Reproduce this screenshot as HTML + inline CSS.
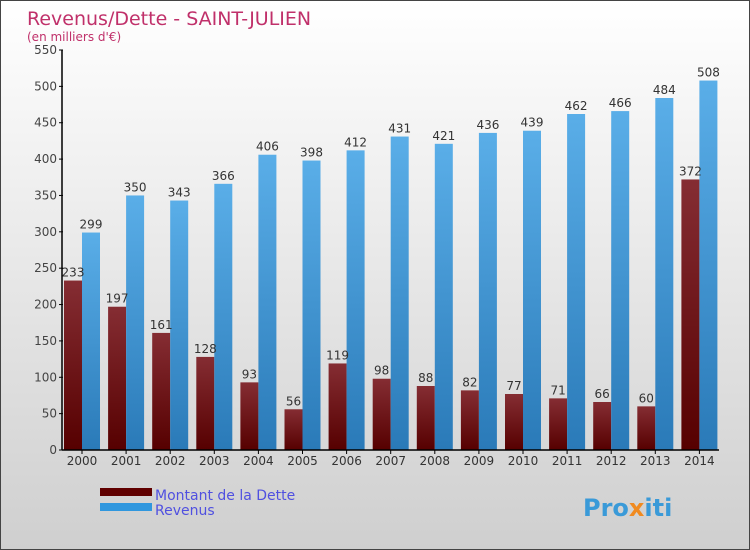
<!DOCTYPE html>
<html><head><meta charset="utf-8"><style>
body{margin:0}
#c{width:748px;height:548px;border:1px solid #444;background:linear-gradient(#ffffff,#cfcfcf);position:relative;font-family:"DejaVu Sans","Liberation Sans",sans-serif;overflow:hidden}
</style></head><body>
<div id="c">
<svg id="s" width="748" height="548">
<defs>
<linearGradient id="gr" x1="0" y1="0" x2="0" y2="1"><stop offset="0" stop-color="#852d33"/><stop offset="1" stop-color="#560000"/></linearGradient>
<linearGradient id="gb" x1="0" y1="0" x2="0" y2="1"><stop offset="0" stop-color="#5aaee8"/><stop offset="1" stop-color="#2a7ab8"/></linearGradient>
</defs>
<text x="26" y="24" font-size="19" fill="#c0306a">Revenus/Dette - SAINT-JULIEN</text>
<text x="26" y="40" font-size="12" fill="#c0306a">(en milliers d'€)</text>
<g id="g"></g>
<rect x="99" y="487" width="52" height="8" fill="#600000"/>
<rect x="99" y="502" width="52" height="8" fill="#3097de"/>
<text x="154" y="499" font-size="14" fill="#5050e0">Montant de la Dette</text>
<text x="154" y="514" font-size="14" fill="#5050e0">Revenus</text>
<text x="582" y="515" font-size="24" font-weight="bold" fill="#3a9ad8">Pro<tspan fill="#f08a20">x</tspan>iti</text>
</svg></div>
<script>
const years=["2000","2001","2002","2003","2004","2005","2006","2007","2008","2009","2010","2011","2012","2013","2014"];
const dette=[233,197,161,128,93,56,119,98,88,82,77,71,66,60,372];
const revenus=[299,350,343,366,406,398,412,431,421,436,439,462,466,484,508];
const ticks=[0,50,100,150,200,250,300,350,400,450,500,550];
const NS="http://www.w3.org/2000/svg",g=document.getElementById('g');
const y=v=>449-v*400/550, x=i=>81+i*44.1;
function mk(t,a,txt){const e=document.createElementNS(NS,t);for(const k in a)e.setAttribute(k,a[k]);if(txt!=null)e.textContent=txt;g.appendChild(e);return e;}
years.forEach((yr,i)=>{
 let e=mk('rect',{x:x(i)-18,y:y(dette[i]),width:18,height:y(0)-y(dette[i]),fill:'url(#gr)'});
 
 
 e=mk('rect',{x:x(i),y:y(revenus[i]),width:18,height:y(0)-y(revenus[i]),fill:'url(#gb)'});
 
 
 e=mk('text',{x:x(i)-9,y:y(dette[i])-4,'font-size':12,fill:'#333','text-anchor':'middle'},dette[i]);
 
 
 e=mk('text',{x:x(i)+9,y:y(revenus[i])-4,'font-size':12,fill:'#333','text-anchor':'middle'},revenus[i]);
 
 
 e=mk('line',{x1:x(i),x2:x(i),y1:y(0),y2:y(0)+4,stroke:'#000'});
 
 
 e=mk('text',{x:x(i),y:y(0)+15,'font-size':12,fill:'#333','text-anchor':'middle'},yr);
 
 
});
ticks.forEach(t=>{
 let e=mk('line',{x1:58,x2:62,y1:y(t),y2:y(t),stroke:'#000'});
 
 
 e=mk('text',{x:56,y:y(t)+4,'font-size':12,fill:'#444','text-anchor':'end'},t);
 
 
});
let a=mk('line',{x1:61,x2:61,y1:y(550),y2:y(0),stroke:'#000','stroke-width':1.5});


a=mk('line',{x1:61,x2:718,y1:y(0),y2:y(0),stroke:'#000','stroke-width':1.5});


</script>
</body></html>
